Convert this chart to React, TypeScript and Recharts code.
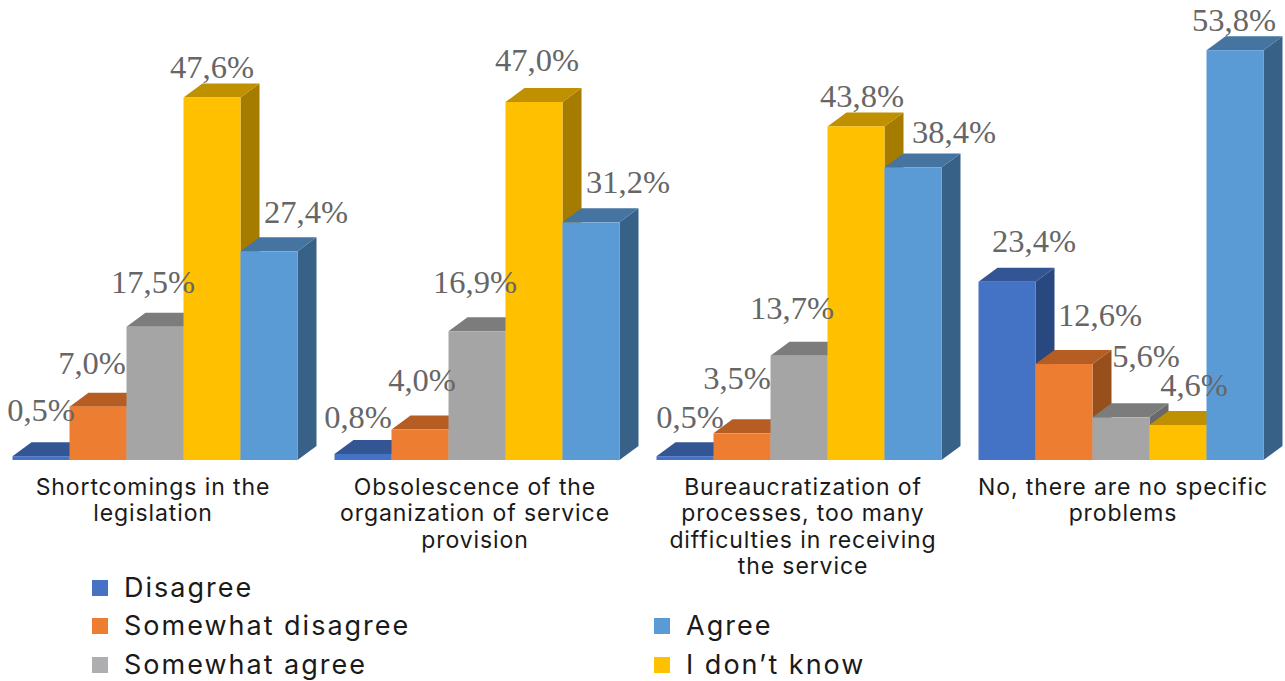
import { BarChart, Bar, XAxis, YAxis, LabelList } from "recharts";

const categories = [
  "Shortcomings in the\nlegislation",
  "Obsolescence of the\norganization of service\nprovision",
  "Bureaucratization of\nprocesses, too many\ndifficulties in receiving\nthe service",
  "No, there are no specific\nproblems",
];
const disagree = [0.5, 0.8, 0.5, 23.4];
const somewhatDisagree = [7.0, 4.0, 3.5, 12.6];
const somewhatAgree = [17.5, 16.9, 13.7, 5.6];
const dontKnow = [47.6, 47.0, 43.8, 4.6];
const agree = [27.4, 31.2, 38.4, 53.8];

const rows = categories.map((name, i) => ({
  name,
  disagree: disagree[i],
  somewhatDisagree: somewhatDisagree[i],
  somewhatAgree: somewhatAgree[i],
  dontKnow: dontKnow[i],
  agree: agree[i],
}));

const SERIES = [
  { key: "disagree", name: "Disagree", front: "#4472C4", top: "#335593", side: "#2A4880" },
  { key: "somewhatDisagree", name: "Somewhat disagree", front: "#ED7D31", top: "#B55D22", side: "#974F1C" },
  { key: "somewhatAgree", name: "Somewhat agree", front: "#A5A5A5", top: "#7C7C7C", side: "#696969" },
  { key: "dontKnow", name: "I don't know", front: "#FFC000", top: "#BF9000", side: "#A67C00" },
  { key: "agree", name: "Agree", front: "#5B9BD5", top: "#44749F", side: "#386188" },
];

// hand placed labels, excel had dragged them around: [dx, dy] from bar top centre
const LABEL_NUDGE = [
  [[0, -46], [-5, -37], [5, -39], [27, -41]],
  [[-6, -44], [2, -50], [-5, -55], [36, -49]],
  [[-2, -45], [-2, -49], [-7, -48], [25, -61]],
  [[0, -30], [3, -42], [6, -30], [16, -40]],
  [[37, -39], [37, -40], [41, -36], [-1, -30]],
];
const TICK_NUDGE = [-2.5, -2.5, 3.5, 1.5];

const LEGEND_LAYOUT = [
  { name: "Disagree", color: "#4472C4", x: 92, y: 588 },
  { name: "Somewhat disagree", color: "#ED7D31", x: 92, y: 626 },
  { name: "Somewhat agree", color: "#AEAEB0", x: 92, y: 665 },
  { name: "Agree", color: "#5B9BD5", x: 654, y: 626 },
  { name: "I don\u2019t know", color: "#FFC000", x: 654, y: 665 },
];

const WIDTH = 1285;
const HEIGHT = 681;
const MARGIN = { top: 3, right: 2.5, bottom: 221, left: -5.5 };
const DEPTH_X = 19;
const DEPTH_Y = 14;
const SANS = "Inter, sans-serif";

function Bar3D(props: any) {
  const { x, y, width, height, front, top, side } = props;
  if (height == null) return null;
  const r = x + width;
  const b = y + height;
  return (
    <g>
      <polygon points={`${r},${y} ${r + DEPTH_X},${y - DEPTH_Y} ${r + DEPTH_X},${b - DEPTH_Y} ${r},${b}`} fill={side} />
      <polygon points={`${x},${y} ${x + DEPTH_X},${y - DEPTH_Y} ${r + DEPTH_X},${y - DEPTH_Y} ${r},${y}`} fill={top} />
      <rect x={x} y={y} width={width} height={height} fill={front} />
    </g>
  );
}

function CategoryTick({ x, y, payload, index }: any) {
  const lines = String(payload.value).split("\n");
  const cx = x + TICK_NUDGE[payload.index ?? index ?? 0];
  return (
    <text x={cx} y={y} textAnchor="middle" fontFamily={SANS} fontSize={23} letterSpacing={0.9} fill="#1a1a1a">
      {lines.map((line, i) => (
        <tspan key={i} x={cx} y={y + 27 + i * 26.3}>
          {line}
        </tspan>
      ))}
    </text>
  );
}

function ValueLabel({ x, y, width, value, index, seriesIndex }: any) {
  const [dx, dy] = LABEL_NUDGE[seriesIndex][index];
  return (
    <text
      x={x + width / 2 + dx}
      y={y + dy}
      textAnchor="middle"
      dominantBaseline="central"
      fontFamily="'Liberation Serif', serif"
      fontSize={32.5}
      fill="#666666"
    >
      {`${Number(value).toFixed(1).replace(".", ",")}%`}
    </text>
  );
}

function ChartLegend() {
  return (
    <>
      {LEGEND_LAYOUT.map((item) => (
        <div key={item.name}>
          <div
            style={{ position: "absolute", left: item.x, top: item.y - 8, width: 16, height: 16, background: item.color }}
          />
          <div
            style={{
              position: "absolute",
              left: item.x + 32,
              top: item.y - 20,
              height: 40,
              lineHeight: "40px",
              fontFamily: SANS,
              fontSize: 27,
              letterSpacing: 2,
              color: "#1a1a1a",
              whiteSpace: "nowrap",
            }}
          >
            {item.name}
          </div>
        </div>
      ))}
    </>
  );
}

export default function App() {
  return (
    <div style={{ position: "absolute", left: 0, top: 0, width: WIDTH, height: HEIGHT, background: "#fff" }}>
      <div style={{ position: "absolute", left: 0, top: 0 }}>
        <BarChart width={WIDTH} height={HEIGHT} data={rows} margin={{ ...MARGIN, bottom: 1 }} barGap={0} barCategoryGap={18}>
          <XAxis dataKey="name" height={220} axisLine={false} tickLine={false} tick={<CategoryTick />} interval={0} />
          <YAxis hide domain={[0, 60]} />
          {SERIES.map((s) => (
            <Bar
              key={s.key}
              dataKey={s.key}
              name={s.name}
              isAnimationActive={false}
              shape={<Bar3D front={s.front} top={s.top} side={s.side} />}
            />
          ))}
        </BarChart>
      </div>
      {/* second chart on top, labels have to sit over every bar */}
      <div style={{ position: "absolute", left: 0, top: 0 }}>
        <BarChart width={WIDTH} height={HEIGHT} data={rows} margin={MARGIN} barGap={0} barCategoryGap={18}>
          <XAxis dataKey="name" hide />
          <YAxis hide domain={[0, 60]} />
          {SERIES.map((s, si) => (
            <Bar key={s.key} dataKey={s.key} fill="none" isAnimationActive={false}>
              <LabelList dataKey={s.key} content={(p: any) => <ValueLabel {...p} seriesIndex={si} />} />
            </Bar>
          ))}
        </BarChart>
      </div>
      <ChartLegend />
    </div>
  );
}
